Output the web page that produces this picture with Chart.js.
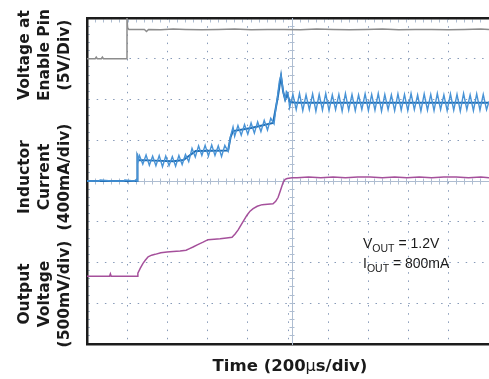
<!DOCTYPE html>
<html>
<head>
<meta charset="utf-8">
<script src="https://cdn.jsdelivr.net/npm/chart.js@4.4.1/dist/chart.umd.min.js"></script>
<style>
  html, body { margin: 0; padding: 0; background: #fff; }
  #scope { display: block; }
</style>
</head>
<body>
<canvas id="scope" width="489" height="379"></canvas>
<script>
// time in us, enable in V, inductor current in mA, output in V
var enableTrace = [[0,0],[40,0],[45,0.2],[50,0],[70,0],[75,0.2],[80,0],[150,0],[194,0],[195,5],[198,3.8],[204,3.6],
  [240,3.6],[280,3.6],[290,3.35],[300,3.6],[360,3.55],[420,3.65],[480,3.6],[560,3.55],[640,3.6],[720,3.65],[800,3.55],
  [880,3.6],[960,3.6],[1040,3.55],[1120,3.65],[1200,3.6],[1280,3.55],[1360,3.6],[1440,3.65],[1520,3.55],[1600,3.6],
  [1680,3.6],[1760,3.55],[1840,3.6],[1920,3.65],[1960,3.6]];

var inductorRipple = [[0,0],[60,0],[64,10],[120,0],[180,0],[184,10],[230,0],[240,15],[244,0],[246,270],[250,200],
  [256,250],[272,165],[288,255],[304,155],[320,245],[336,150],[352,250],[368,140],[384,245],[400,150],[416,240],[432,145],
  [448,250],[464,160],[480,260],[496,190],[512,320],[528,235],[544,345],[560,250],[576,350],[592,245],[608,355],[624,250],
  [640,345],[656,240],[672,350],[688,290],[700,440],[712,530],[720,440],[736,545],[752,450],[768,555],[784,460],[800,570],
  [816,470],[832,580],[848,485],[864,595],[880,500],[896,615],[912,560],[920,700],[930,850],[938,980],[946,1040],[952,950],
  [958,860],[966,800],[972,880],[980,860],[988,720],[1004,850],[1020,700],[1036,860],[1052,690],[1068,845],[1084,700],
  [1100,855],[1116,685],[1132,850],[1148,695],[1164,860],[1180,690],[1196,845],[1212,700],[1228,850],[1244,685],[1260,860],
  [1276,695],[1292,850],[1308,690],[1324,845],[1340,700],[1356,855],[1372,690],[1388,850],[1404,695],[1420,860],[1436,685],
  [1452,850],[1468,700],[1484,845],[1500,690],[1516,855],[1532,695],[1548,850],[1564,690],[1580,860],[1596,700],[1612,845],
  [1628,685],[1644,855],[1660,695],[1676,850],[1692,690],[1708,860],[1724,700],[1740,845],[1756,690],[1772,855],[1788,695],
  [1804,850],[1820,685],[1836,860],[1852,700],[1868,845],[1884,690],[1900,855],[1916,695],[1932,850],[1948,700],[1960,780]];

var inductorMean = [[0,0],[244,0],[246,240],[252,205],[330,200],[420,195],[470,205],[530,295],[688,300],[700,430],
  [712,490],[800,520],[907,570],[930,820],[946,1030],[956,880],[966,800],[976,850],[990,775],[1020,768],[1960,768]];

var outputTrace = [[0,0],[110,0],[114,0.03],[118,0],[244,0],[248,0.04],[260,0.1],[273,0.16],[285,0.2],[298,0.24],
  [315,0.26],[332,0.27],[360,0.29],[390,0.3],[420,0.305],[454,0.31],[483,0.32],[500,0.34],[517,0.36],[540,0.39],
  [566,0.42],[590,0.45],[620,0.455],[649,0.46],[680,0.47],[707,0.48],[722,0.52],[737,0.57],[758,0.66],[780,0.75],
  [795,0.8],[810,0.83],[830,0.86],[854,0.88],[880,0.885],[907,0.89],[920,0.92],[932,0.97],[944,1.06],[956,1.15],
  [966,1.19],[976,1.2],[1000,1.21],[1024,1.21],[1080,1.22],[1140,1.21],[1200,1.22],[1260,1.21],[1320,1.22],[1380,1.22],
  [1440,1.21],[1500,1.22],[1560,1.21],[1620,1.22],[1680,1.21],[1740,1.22],[1800,1.22],[1860,1.21],[1920,1.22],[1960,1.21]];

var leftLabels = [
  ['Voltage at', 'Enable Pin', '(5V/Div)'],
  ['Inductor', 'Current', '(400mA/div)'],
  ['Output', 'Voltage', '(500mV/div)']
];
var timeLabel = ['Time (200', '\u00b5', 's/div)'];
var noteLines = [['V', 'OUT', ' = 1.2V'], ['I', 'OUT', ' = 800mA']];

var gridColor = 'rgba(95,120,160,0.75)';
var axisColor = '#aebdd1';
var frameColor = '#1c1c1c';

function pts(arr) {
  return arr.map(function(p) { return {x: p[0], y: p[1]}; });
}

var scopeText = {
  id: 'scopeText',
  afterDraw: function(chart) {
    var ctx = chart.ctx;
    var colX = [29, 49, 68.5];
    var groupY = [55, 177, 294];
    ctx.save();
    ctx.fillStyle = '#1a1a1a';
    ctx.textAlign = 'center';
    ctx.textBaseline = 'alphabetic';
    ctx.font = 'bold 15.5px "DejaVu Sans"';
    for (var g = 0; g < leftLabels.length; g++) {
      for (var j = 0; j < leftLabels[g].length; j++) {
        ctx.save();
        ctx.translate(colX[j], groupY[g]);
        ctx.rotate(-Math.PI / 2);
        ctx.fillText(leftLabels[g][j], 0, 0);
        ctx.restore();
      }
    }

    // x title, the mu is a lighter glyph in the original
    ctx.textAlign = 'left';
    var bold = 'bold 16.5px "DejaVu Sans"', light = '16px "DejaVu Sans"';
    ctx.font = bold; var w1 = ctx.measureText(timeLabel[0]).width;
    ctx.font = light; var w2 = ctx.measureText(timeLabel[1]).width;
    ctx.font = bold; var w3 = ctx.measureText(timeLabel[2]).width;
    var x = 290 - (w1 + w2 + w3) / 2, y = 371;
    ctx.fillText(timeLabel[0], x, y);
    ctx.font = light; ctx.fillText(timeLabel[1], x + w1, y);
    ctx.font = bold; ctx.fillText(timeLabel[2], x + w1 + w2, y);

    // conditions note
    for (var k = 0; k < noteLines.length; k++) {
      var nx = 363, ny = 248 + k * 20;
      ctx.font = '14px "Liberation Sans"';
      ctx.fillText(noteLines[k][0], nx, ny);
      nx += ctx.measureText(noteLines[k][0]).width;
      ctx.font = '10.5px "Liberation Sans"';
      ctx.fillText(noteLines[k][1], nx, ny + 4);
      nx += ctx.measureText(noteLines[k][1]).width;
      ctx.font = '14px "Liberation Sans"';
      ctx.fillText(noteLines[k][2], nx, ny);
    }
    ctx.restore();
  }
};

var xMin = 0, xMax = 1960;
function minorAxis(axis, pos, len, border) {
  return {
    axis: axis, type: 'linear', position: pos,
    min: axis === 'x' ? xMin : 0, max: axis === 'x' ? xMax : 8,
    ticks: { display: false, stepSize: axis === 'x' ? 40 : 0.2 },
    grid: { drawOnChartArea: false, drawTicks: true, tickLength: len, tickColor: axisColor, tickWidth: 1 },
    border: border || { display: false }
  };
}

new Chart(document.getElementById('scope'), {
  type: 'line',
  data: {
    datasets: [
      { data: pts(enableTrace), yAxisID: 'yEn', borderColor: '#8c8c8c', borderWidth: 1.5 },
      { data: pts(inductorRipple), yAxisID: 'yIL', borderColor: '#4893d6', borderWidth: 1.4 },
      { data: pts(inductorMean), yAxisID: 'yIL', borderColor: '#1f6cb2', borderWidth: 2 },
      { data: pts(outputTrace), yAxisID: 'yVo', borderColor: '#a5509b', borderWidth: 1.5 }
    ]
  },
  options: {
    responsive: false,
    devicePixelRatio: 1,
    animation: false,
    events: [],
    layout: { padding: { left: 87, top: 18, right: 0, bottom: 35 } },
    elements: { point: { radius: 0 }, line: { tension: 0 } },
    plugins: { legend: { display: false }, tooltip: { enabled: false } },
    scales: {
      x: {
        type: 'linear', position: 'bottom', min: xMin, max: xMax,
        ticks: { display: false, stepSize: 200 },
        grid: { drawTicks: false, lineWidth: 1, color: gridColor },
        border: { display: true, color: frameColor, width: 2.5, dash: [1.5, 6.7] }
      },
      y: {
        type: 'linear', position: 'left', min: 0, max: 8,
        ticks: { display: false, stepSize: 1 },
        grid: { drawTicks: false, lineWidth: 1, color: gridColor },
        border: { display: true, color: frameColor, width: 2.5, dash: [1.5, 6.7] }
      },
      xTop: minorAxis('x', { y: 8 }, 3, { display: true, color: frameColor, width: 2.5 }),
      yLeft: minorAxis('y', { x: 0 }, -3),
      xMid: minorAxis('x', { y: 4 }, 2.5, { display: true, color: axisColor, width: 1 }),
      xMidUp: minorAxis('x', { y: 4 }, -2.5),
      yMid: minorAxis('y', { x: 1000 }, 2.5, { display: true, color: axisColor, width: 1 }),
      yMidR: minorAxis('y', { x: 1000 }, -2.5),
      yEn: { type: 'linear', display: false, min: -35, max: 5 },
      yIL: { type: 'linear', display: false, min: -1600, max: 1600 },
      yVo: { type: 'linear', display: false, min: -0.83, max: 3.17 }
    }
  },
  plugins: [scopeText]
});
</script>
</body>
</html>
